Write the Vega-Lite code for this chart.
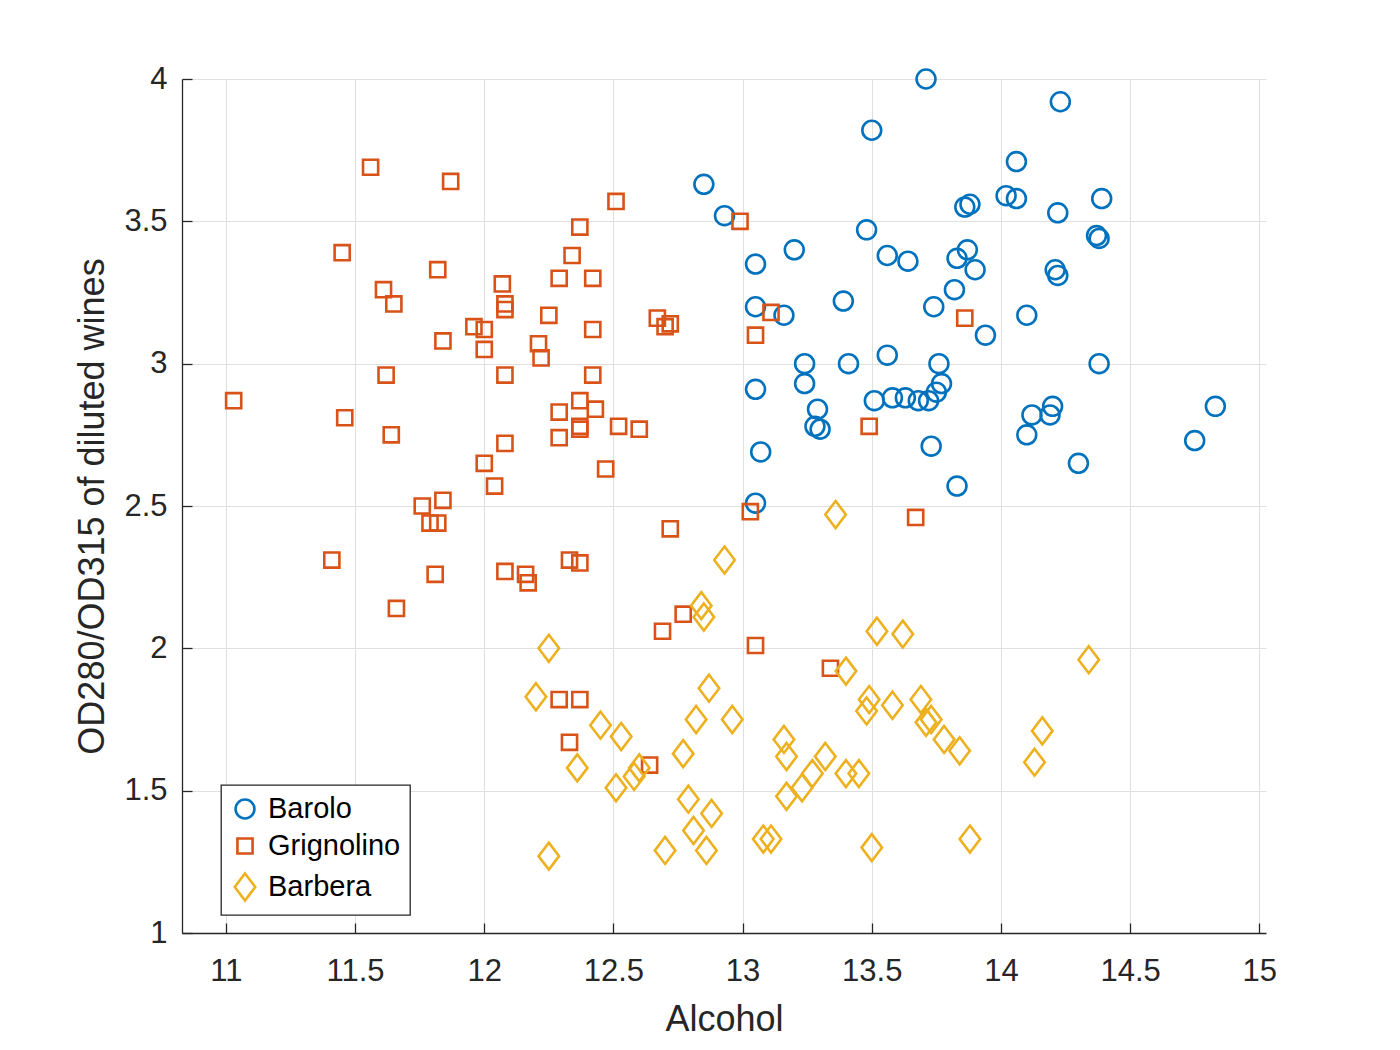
{
  "$schema": "https://vega.github.io/schema/vega-lite/v6.json",
  "autosize": {"type": "none"},
  "padding": {"left": 182, "top": 79, "right": 134, "bottom": 117},
  "width": 1084,
  "height": 854,
  "background": "white",
  "data": {
    "values": [
      {"alcohol": 14.23, "od": 3.92, "wine": "Barolo"},
      {"alcohol": 13.2, "od": 3.4, "wine": "Barolo"},
      {"alcohol": 13.16, "od": 3.17, "wine": "Barolo"},
      {"alcohol": 14.37, "od": 3.45, "wine": "Barolo"},
      {"alcohol": 13.24, "od": 2.93, "wine": "Barolo"},
      {"alcohol": 14.2, "od": 2.85, "wine": "Barolo"},
      {"alcohol": 14.39, "od": 3.58, "wine": "Barolo"},
      {"alcohol": 14.06, "od": 3.58, "wine": "Barolo"},
      {"alcohol": 14.83, "od": 2.85, "wine": "Barolo"},
      {"alcohol": 13.86, "od": 3.55, "wine": "Barolo"},
      {"alcohol": 14.1, "od": 3.17, "wine": "Barolo"},
      {"alcohol": 14.12, "od": 2.82, "wine": "Barolo"},
      {"alcohol": 13.75, "od": 2.9, "wine": "Barolo"},
      {"alcohol": 14.75, "od": 2.73, "wine": "Barolo"},
      {"alcohol": 14.38, "od": 3.0, "wine": "Barolo"},
      {"alcohol": 13.63, "od": 2.88, "wine": "Barolo"},
      {"alcohol": 14.3, "od": 2.65, "wine": "Barolo"},
      {"alcohol": 13.83, "od": 2.57, "wine": "Barolo"},
      {"alcohol": 14.19, "od": 2.82, "wine": "Barolo"},
      {"alcohol": 13.64, "od": 3.36, "wine": "Barolo"},
      {"alcohol": 14.06, "od": 3.71, "wine": "Barolo"},
      {"alcohol": 12.93, "od": 3.52, "wine": "Barolo"},
      {"alcohol": 13.71, "od": 4.0, "wine": "Barolo"},
      {"alcohol": 12.85, "od": 3.63, "wine": "Barolo"},
      {"alcohol": 13.5, "od": 3.82, "wine": "Barolo"},
      {"alcohol": 13.05, "od": 3.2, "wine": "Barolo"},
      {"alcohol": 13.39, "od": 3.22, "wine": "Barolo"},
      {"alcohol": 13.3, "od": 2.77, "wine": "Barolo"},
      {"alcohol": 13.87, "od": 3.4, "wine": "Barolo"},
      {"alcohol": 14.02, "od": 3.59, "wine": "Barolo"},
      {"alcohol": 13.73, "od": 2.71, "wine": "Barolo"},
      {"alcohol": 13.58, "od": 2.88, "wine": "Barolo"},
      {"alcohol": 13.68, "od": 2.87, "wine": "Barolo"},
      {"alcohol": 13.76, "od": 3.0, "wine": "Barolo"},
      {"alcohol": 13.51, "od": 2.87, "wine": "Barolo"},
      {"alcohol": 13.48, "od": 3.47, "wine": "Barolo"},
      {"alcohol": 13.28, "od": 2.78, "wine": "Barolo"},
      {"alcohol": 13.05, "od": 2.51, "wine": "Barolo"},
      {"alcohol": 13.07, "od": 2.69, "wine": "Barolo"},
      {"alcohol": 14.22, "od": 3.53, "wine": "Barolo"},
      {"alcohol": 13.56, "od": 3.38, "wine": "Barolo"},
      {"alcohol": 13.41, "od": 3.0, "wine": "Barolo"},
      {"alcohol": 13.88, "od": 3.56, "wine": "Barolo"},
      {"alcohol": 13.24, "od": 3.0, "wine": "Barolo"},
      {"alcohol": 13.05, "od": 3.35, "wine": "Barolo"},
      {"alcohol": 14.21, "od": 3.33, "wine": "Barolo"},
      {"alcohol": 14.38, "od": 3.44, "wine": "Barolo"},
      {"alcohol": 13.9, "od": 3.33, "wine": "Barolo"},
      {"alcohol": 14.1, "od": 2.75, "wine": "Barolo"},
      {"alcohol": 13.94, "od": 3.1, "wine": "Barolo"},
      {"alcohol": 13.05, "od": 2.91, "wine": "Barolo"},
      {"alcohol": 13.83, "od": 3.37, "wine": "Barolo"},
      {"alcohol": 13.82, "od": 3.26, "wine": "Barolo"},
      {"alcohol": 13.77, "od": 2.93, "wine": "Barolo"},
      {"alcohol": 13.74, "od": 3.2, "wine": "Barolo"},
      {"alcohol": 13.56, "od": 3.03, "wine": "Barolo"},
      {"alcohol": 14.22, "od": 3.31, "wine": "Barolo"},
      {"alcohol": 13.29, "od": 2.84, "wine": "Barolo"},
      {"alcohol": 13.72, "od": 2.87, "wine": "Barolo"},
      {"alcohol": 12.37, "od": 1.82, "wine": "Grignolino"},
      {"alcohol": 12.33, "od": 1.67, "wine": "Grignolino"},
      {"alcohol": 12.64, "od": 1.59, "wine": "Grignolino"},
      {"alcohol": 13.67, "od": 2.46, "wine": "Grignolino"},
      {"alcohol": 12.37, "od": 2.87, "wine": "Grignolino"},
      {"alcohol": 12.17, "od": 2.23, "wine": "Grignolino"},
      {"alcohol": 12.37, "od": 2.3, "wine": "Grignolino"},
      {"alcohol": 13.11, "od": 3.18, "wine": "Grignolino"},
      {"alcohol": 12.37, "od": 3.48, "wine": "Grignolino"},
      {"alcohol": 13.34, "od": 1.93, "wine": "Grignolino"},
      {"alcohol": 12.21, "od": 3.07, "wine": "Grignolino"},
      {"alcohol": 12.29, "od": 1.82, "wine": "Grignolino"},
      {"alcohol": 13.86, "od": 3.16, "wine": "Grignolino"},
      {"alcohol": 13.49, "od": 2.78, "wine": "Grignolino"},
      {"alcohol": 12.99, "od": 3.5, "wine": "Grignolino"},
      {"alcohol": 11.96, "od": 3.13, "wine": "Grignolino"},
      {"alcohol": 11.66, "od": 2.14, "wine": "Grignolino"},
      {"alcohol": 13.03, "od": 2.48, "wine": "Grignolino"},
      {"alcohol": 11.84, "od": 2.52, "wine": "Grignolino"},
      {"alcohol": 12.33, "od": 2.31, "wine": "Grignolino"},
      {"alcohol": 12.7, "od": 3.13, "wine": "Grignolino"},
      {"alcohol": 12.0, "od": 3.12, "wine": "Grignolino"},
      {"alcohol": 12.72, "od": 3.14, "wine": "Grignolino"},
      {"alcohol": 12.08, "od": 2.72, "wine": "Grignolino"},
      {"alcohol": 13.05, "od": 2.01, "wine": "Grignolino"},
      {"alcohol": 11.84, "od": 3.08, "wine": "Grignolino"},
      {"alcohol": 12.67, "od": 3.16, "wine": "Grignolino"},
      {"alcohol": 12.16, "od": 2.26, "wine": "Grignolino"},
      {"alcohol": 11.65, "od": 3.21, "wine": "Grignolino"},
      {"alcohol": 11.64, "od": 2.75, "wine": "Grignolino"},
      {"alcohol": 12.08, "od": 3.21, "wine": "Grignolino"},
      {"alcohol": 12.08, "od": 2.27, "wine": "Grignolino"},
      {"alcohol": 12.0, "od": 2.65, "wine": "Grignolino"},
      {"alcohol": 12.69, "od": 2.06, "wine": "Grignolino"},
      {"alcohol": 12.29, "od": 3.3, "wine": "Grignolino"},
      {"alcohol": 11.62, "od": 2.96, "wine": "Grignolino"},
      {"alcohol": 12.47, "od": 2.63, "wine": "Grignolino"},
      {"alcohol": 11.81, "od": 2.26, "wine": "Grignolino"},
      {"alcohol": 12.29, "od": 2.74, "wine": "Grignolino"},
      {"alcohol": 12.37, "od": 2.77, "wine": "Grignolino"},
      {"alcohol": 12.29, "od": 2.83, "wine": "Grignolino"},
      {"alcohol": 12.08, "od": 2.96, "wine": "Grignolino"},
      {"alcohol": 12.6, "od": 2.77, "wine": "Grignolino"},
      {"alcohol": 12.34, "od": 3.38, "wine": "Grignolino"},
      {"alcohol": 11.82, "od": 2.44, "wine": "Grignolino"},
      {"alcohol": 12.51, "od": 3.57, "wine": "Grignolino"},
      {"alcohol": 12.42, "od": 3.3, "wine": "Grignolino"},
      {"alcohol": 12.25, "od": 3.17, "wine": "Grignolino"},
      {"alcohol": 12.72, "od": 2.42, "wine": "Grignolino"},
      {"alcohol": 12.22, "od": 3.02, "wine": "Grignolino"},
      {"alcohol": 11.61, "od": 3.26, "wine": "Grignolino"},
      {"alcohol": 11.46, "od": 2.81, "wine": "Grignolino"},
      {"alcohol": 12.52, "od": 2.78, "wine": "Grignolino"},
      {"alcohol": 11.76, "od": 2.5, "wine": "Grignolino"},
      {"alcohol": 11.41, "od": 2.31, "wine": "Grignolino"},
      {"alcohol": 12.08, "od": 3.19, "wine": "Grignolino"},
      {"alcohol": 11.03, "od": 2.87, "wine": "Grignolino"},
      {"alcohol": 11.82, "od": 3.33, "wine": "Grignolino"},
      {"alcohol": 12.42, "od": 2.96, "wine": "Grignolino"},
      {"alcohol": 12.77, "od": 2.12, "wine": "Grignolino"},
      {"alcohol": 12.0, "od": 3.05, "wine": "Grignolino"},
      {"alcohol": 11.45, "od": 3.39, "wine": "Grignolino"},
      {"alcohol": 11.56, "od": 3.69, "wine": "Grignolino"},
      {"alcohol": 12.42, "od": 3.12, "wine": "Grignolino"},
      {"alcohol": 13.05, "od": 3.1, "wine": "Grignolino"},
      {"alcohol": 11.87, "od": 3.64, "wine": "Grignolino"},
      {"alcohol": 12.07, "od": 3.28, "wine": "Grignolino"},
      {"alcohol": 12.43, "od": 2.84, "wine": "Grignolino"},
      {"alcohol": 11.79, "od": 2.44, "wine": "Grignolino"},
      {"alcohol": 12.37, "od": 2.78, "wine": "Grignolino"},
      {"alcohol": 12.04, "od": 2.57, "wine": "Grignolino"},
      {"alcohol": 12.86, "od": 1.29, "wine": "Barbera"},
      {"alcohol": 12.88, "od": 1.42, "wine": "Barbera"},
      {"alcohol": 12.81, "od": 1.36, "wine": "Barbera"},
      {"alcohol": 12.7, "od": 1.29, "wine": "Barbera"},
      {"alcohol": 12.51, "od": 1.51, "wine": "Barbera"},
      {"alcohol": 12.6, "od": 1.58, "wine": "Barbera"},
      {"alcohol": 12.25, "od": 1.27, "wine": "Barbera"},
      {"alcohol": 12.53, "od": 1.69, "wine": "Barbera"},
      {"alcohol": 13.49, "od": 1.82, "wine": "Barbera"},
      {"alcohol": 12.84, "od": 2.15, "wine": "Barbera"},
      {"alcohol": 12.93, "od": 2.31, "wine": "Barbera"},
      {"alcohol": 13.36, "od": 2.47, "wine": "Barbera"},
      {"alcohol": 13.52, "od": 2.06, "wine": "Barbera"},
      {"alcohol": 13.62, "od": 2.05, "wine": "Barbera"},
      {"alcohol": 12.25, "od": 2.0, "wine": "Barbera"},
      {"alcohol": 13.16, "od": 1.68, "wine": "Barbera"},
      {"alcohol": 13.88, "od": 1.33, "wine": "Barbera"},
      {"alcohol": 12.87, "od": 1.86, "wine": "Barbera"},
      {"alcohol": 13.32, "od": 1.62, "wine": "Barbera"},
      {"alcohol": 13.08, "od": 1.33, "wine": "Barbera"},
      {"alcohol": 13.5, "od": 1.3, "wine": "Barbera"},
      {"alcohol": 12.79, "od": 1.47, "wine": "Barbera"},
      {"alcohol": 13.11, "od": 1.33, "wine": "Barbera"},
      {"alcohol": 13.23, "od": 1.51, "wine": "Barbera"},
      {"alcohol": 12.58, "od": 1.55, "wine": "Barbera"},
      {"alcohol": 13.17, "od": 1.48, "wine": "Barbera"},
      {"alcohol": 13.84, "od": 1.64, "wine": "Barbera"},
      {"alcohol": 12.45, "od": 1.73, "wine": "Barbera"},
      {"alcohol": 14.34, "od": 1.96, "wine": "Barbera"},
      {"alcohol": 13.48, "od": 1.78, "wine": "Barbera"},
      {"alcohol": 12.36, "od": 1.58, "wine": "Barbera"},
      {"alcohol": 13.69, "od": 1.82, "wine": "Barbera"},
      {"alcohol": 12.85, "od": 2.11, "wine": "Barbera"},
      {"alcohol": 12.96, "od": 1.75, "wine": "Barbera"},
      {"alcohol": 13.78, "od": 1.68, "wine": "Barbera"},
      {"alcohol": 13.73, "od": 1.75, "wine": "Barbera"},
      {"alcohol": 13.45, "od": 1.56, "wine": "Barbera"},
      {"alcohol": 12.82, "od": 1.75, "wine": "Barbera"},
      {"alcohol": 13.58, "od": 1.8, "wine": "Barbera"},
      {"alcohol": 13.4, "od": 1.92, "wine": "Barbera"},
      {"alcohol": 12.2, "od": 1.83, "wine": "Barbera"},
      {"alcohol": 12.77, "od": 1.63, "wine": "Barbera"},
      {"alcohol": 14.16, "od": 1.71, "wine": "Barbera"},
      {"alcohol": 13.71, "od": 1.74, "wine": "Barbera"},
      {"alcohol": 13.4, "od": 1.56, "wine": "Barbera"},
      {"alcohol": 13.27, "od": 1.56, "wine": "Barbera"},
      {"alcohol": 13.17, "od": 1.62, "wine": "Barbera"},
      {"alcohol": 14.13, "od": 1.6, "wine": "Barbera"}
    ]
  },
  "mark": {"type": "point", "filled": false, "strokeWidth": 2.6, "size": 729, "opacity": 1},
  "encoding": {
    "x": {
      "field": "alcohol",
      "type": "quantitative",
      "title": "Alcohol",
      "scale": {"domain": [10.83, 15.026], "nice": false, "zero": false},
      "axis": {
        "values": [11, 11.5, 12, 12.5, 13, 13.5, 14, 14.5, 15],
        "format": "~g",
        "labelPadding": 33,
        "titleX": 542,
        "titleY": 97,
        "titleBaseline": "alphabetic",
        "titleAlign": "center"
      }
    },
    "y": {
      "field": "od",
      "type": "quantitative",
      "title": "OD280/OD315 of diluted wines",
      "scale": {"domain": [1, 4], "nice": false, "zero": false},
      "axis": {
        "values": [1, 1.5, 2, 2.5, 3, 3.5, 4],
        "format": "~g",
        "labelPadding": 25,
        "titleX": -79,
        "titleY": 427,
        "titleAngle": -90,
        "titleBaseline": "alphabetic",
        "titleAlign": "center"
      }
    },
    "color": {
      "field": "wine",
      "type": "nominal",
      "scale": {"domain": ["Barolo", "Grignolino", "Barbera"], "range": ["#0072BD", "#D95319", "#EDB120"]},
      "legend": {"title": null}
    },
    "shape": {
      "field": "wine",
      "type": "nominal",
      "scale": {
        "domain": ["Barolo", "Grignolino", "Barbera"],
        "range": [
          "M0.7,0A0.7,0.7 0 1,1 -0.7,0A0.7,0.7 0 1,1 0.7,0Z",
          "M-0.56,-0.56L0.56,-0.56L0.56,0.56L-0.56,0.56Z",
          "M0,-1L0.76,0L0,1L-0.76,0Z"
        ]
      },
      "legend": {"title": null}
    }
  },
  "config": {
    "font": "Liberation Sans",
    "view": {"stroke": null},
    "axis": {
      "labelFont": "Liberation Sans",
      "labelFontSize": 31,
      "labelColor": "#262626",
      "titleFont": "Liberation Sans",
      "titleFontSize": 36,
      "titleFontWeight": "normal",
      "titleColor": "#262626",
      "domainColor": "#262626",
      "domainWidth": 1.3,
      "tickColor": "#262626",
      "tickWidth": 1.3,
      "tickSize": -10,
      "gridColor": "#dfdfdf",
      "gridWidth": 1,
      "gridOpacity": 1
    },
    "legend": {
      "orient": "none",
      "legendX": 39,
      "legendY": 706,
      "fillColor": "white",
      "strokeColor": "#262626",
      "strokeWidth": 1.3,
      "padding": 9,
      "rowPadding": 7,
      "labelOffset": 8,
      "labelFont": "Liberation Sans",
      "labelFontSize": 29,
      "labelColor": "black",
      "symbolSize": 729,
      "symbolStrokeWidth": 2.6
    }
  }
}
